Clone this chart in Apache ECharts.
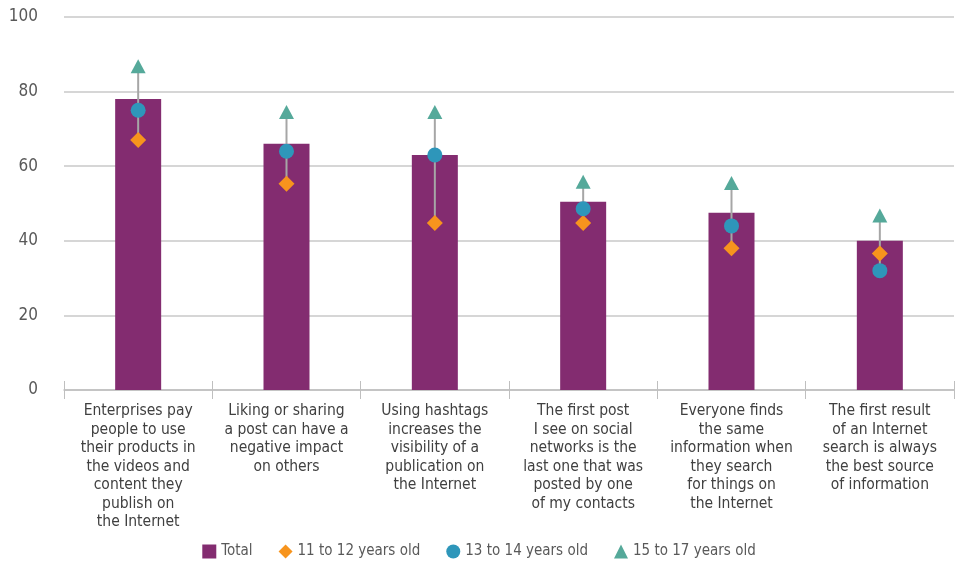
<!DOCTYPE html>
<html>
<head>
<meta charset="utf-8">
<script src="https://cdn.jsdelivr.net/npm/echarts@6/dist/echarts.min.js"></script>
<style>
	html, body { margin: 0; padding: 0; background: #fff; }
	#chart { width: 958px; height: 567px; }
</style>
</head>
<body>
<div id="chart"></div>
<script>
const categories = [
	'Enterprises pay\npeople to use\ntheir products in\nthe videos and\ncontent they\npublish on\nthe Internet',
	'Liking or sharing\na post can have a\nnegative impact\non others',
	'Using hashtags\nincreases the\nvisibility of a\npublication on\nthe Internet',
	'The first post\nI see on social\nnetworks is the\nlast one that was\nposted by one\nof my contacts',
	'Everyone finds\nthe same\ninformation when\nthey search\nfor things on\nthe Internet',
	'The first result\nof an Internet\nsearch is always\nthe best source\nof information'
]
const total = [78, 66, 63, 50.5, 47.5, 40]
const age11to12 = [67, 55.3, 44.8, 44.8, 38, 36.6]
const age13to14 = [75, 64, 63, 48.6, 44, 32]
const age15to17 = [86.8, 74.5, 74.5, 55.8, 55.5, 46.8]
const yTicks = [0, 20, 40, 60, 80, 100]

const FONT = "'Liberation Sans Narrow', 'DejaVu Sans Condensed', 'Roboto', sans-serif"

// high-low line per category: from the lowest to the highest age-group value
const hiLo = categories.map((c, i) => {
	const vals = [age11to12[i], age13to14[i], age15to17[i]]
	return [i, Math.min(...vals), Math.max(...vals)]
})

const chart = echarts.init(document.getElementById('chart'))
chart.setOption({
	animation: false,
	textStyle: { fontFamily: FONT },
	legend: {
		bottom: 3,
		left: 'center',
		itemWidth: 14,
		itemHeight: 14,
		itemGap: 26,
		textStyle: { color: '#595959', fontSize: 15, fontFamily: FONT },
		data: [
			{ name: 'Total', icon: 'rect', itemStyle: { borderWidth: 0 } },
			{ name: '11 to 12 years old', icon: 'diamond' },
			{ name: '13 to 14 years old', icon: 'circle' },
			{ name: '15 to 17 years old', icon: 'triangle' }
		]
	},
	grid: {
		left: 64,
		right: 4,
		top: 17,
		bottom: 177
	},
	xAxis: [
		{
			type: 'category',
			data: categories,
			axisLine: { lineStyle: { color: '#BFBFBF', width: 1.5 } },
			axisTick: { show: true, length: 9, lineStyle: { color: '#BFBFBF' } },
			axisLabel: {
				color: '#404040',
				fontSize: 15.5,
				lineHeight: 18.5,
				margin: 12,
				interval: 0,
				align: 'center',
				fontFamily: FONT
			}
		},
		{
			// second axis only to draw the upward half of the cross ticks
			type: 'category',
			data: categories,
			position: 'bottom',
			axisLine: { show: false },
			axisTick: { show: true, inside: true, length: 9, lineStyle: { color: '#BFBFBF' } },
			axisLabel: { show: false }
		}
	],
	yAxis: {
		type: 'value',
		min: yTicks[0],
		max: yTicks[yTicks.length - 1],
		interval: 20,
		axisLine: { show: false },
		axisTick: { show: false },
		axisLabel: { color: '#595959', fontSize: 17, margin: 26, fontFamily: FONT },
		splitLine: { lineStyle: { color: '#C8C8C8', width: 1.5 } }
	},
	series: [
		{
			name: 'Total',
			type: 'bar',
			barWidth: 46,
			itemStyle: { color: '#832C70' },
			data: total,
			z: 1
		},
		{
			name: 'hilo',
			type: 'custom',
			data: hiLo,
			z: 2,
			silent: true,
			renderItem(params, api) {
				const x = api.value(0)
				const p1 = api.coord([x, api.value(1)])
				const p2 = api.coord([x, api.value(2)])
				return {
					type: 'line',
					shape: { x1: p1[0], y1: p1[1], x2: p2[0], y2: p2[1] },
					style: { stroke: '#A6A6A6', lineWidth: 2 }
				}
			}
		},
		{
			name: '11 to 12 years old',
			type: 'scatter',
			symbol: 'diamond',
			symbolSize: [16, 16],
			itemStyle: { color: '#F7941D', opacity: 1 },
			data: age11to12,
			z: 3
		},
		{
			name: '13 to 14 years old',
			type: 'scatter',
			symbol: 'circle',
			symbolSize: 15,
			itemStyle: { color: '#2E96BA', opacity: 1 },
			data: age13to14,
			z: 3
		},
		{
			name: '15 to 17 years old',
			type: 'scatter',
			symbol: 'triangle',
			symbolSize: [15, 14],
			itemStyle: { color: '#55A99A', opacity: 1 },
			data: age15to17,
			z: 3
		}
	]
})
</script>
</body>
</html>
